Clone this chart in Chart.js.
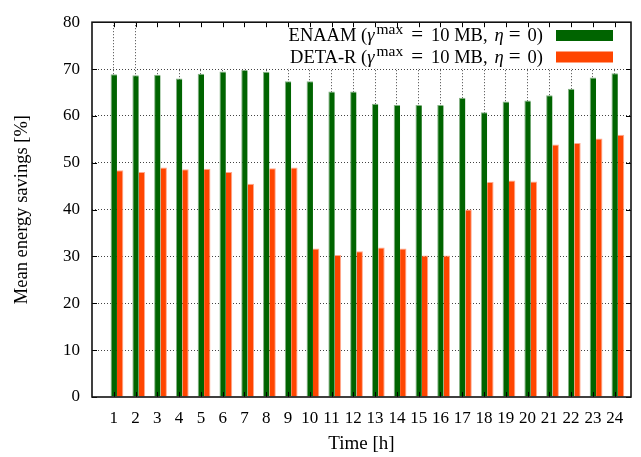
<!DOCTYPE html>
<html>
<head>
<meta charset="utf-8">
<script src="https://cdn.jsdelivr.net/npm/chart.js@4/dist/chart.umd.min.js"></script>
<style>
  html, body { margin: 0; padding: 0; background: #fff; }
  #wrap { width: 641px; height: 457px; }
</style>
</head>
<body>
<div id="wrap"><canvas id="chart" width="641" height="457"></canvas></div>
<script>
const HOURS = [1, 2, 3, 4, 5, 6, 7, 8, 9, 10, 11, 12, 13, 14, 15, 16, 17, 18, 19, 20, 21, 22, 23, 24];
const ENAAM = [68.9, 68.7, 68.8, 68.0, 69.0, 69.5, 69.8, 69.4, 67.4, 67.4, 65.2, 65.2,
  62.6, 62.3, 62.3, 62.3, 63.9, 60.8, 63.1, 63.3, 64.4, 65.8, 68.2, 69.1];
const DETA_R = [48.4, 48.0, 49.0, 48.6, 48.7, 48.0, 45.5, 48.8, 49.0, 31.7, 30.3, 31.1,
  31.9, 31.7, 30.2, 30.2, 40.0, 45.9, 46.2, 46.0, 53.9, 54.2, 55.2, 56.0];
const Y_TICKS = [0, 10, 20, 30, 40, 50, 60, 70, 80];
const SERIES_NAMES = ['ENAAM', 'DETA-R'];
const SERIES_COLORS = ['#006400', '#ff4500'];

const FONT = "'Liberation Serif', 'Times New Roman', serif";
Chart.defaults.font.family = FONT;
Chart.defaults.font.size = 17;
Chart.defaults.color = '#000';

const toPoints = (values) => HOURS.map((h, i) => ({ x: h, y: values ? values[i] : null }));

// gnuplot/latex style key: "NAME (γ^max = 10 MB, η = 0)" plus a swatch, on a white box
const drawKeyLine = (ctx, name, color, baseY, rightX) => {
  const rm = `18.5px ${FONT}`;
  const it = `italic 18.5px ${FONT}`;
  const parts = [
    // text, font, raise, gap before
    [name + ' (', rm, 0, 0],
    ['γ', it, 0, 0],
    ['max', `15.5px ${FONT}`, -7, 2],
    ['=', `21px ${FONT}`, 0, 8],
    ['10 MB,', rm, 0, 8],
    ['η', it, 0, 7],
    ['=', `21px ${FONT}`, 0, 5],
    ['0)', rm, 0, 7]
  ];
  let total = 0;
  parts.forEach(p => { ctx.font = p[1]; total += p[3] + ctx.measureText(p[0]).width; });
  let x = rightX - total;
  ctx.fillStyle = '#000';
  ctx.textBaseline = 'alphabetic';
  ctx.textAlign = 'left';
  parts.forEach(p => {
    ctx.font = p[1];
    x += p[3];
    ctx.fillText(p[0], x, baseY + p[2]);
    x += ctx.measureText(p[0]).width;
  });
  ctx.fillStyle = color;
  ctx.fillRect(556, baseY - 11, 57, 11);
};

const framePlugin = {
  id: 'frame',
  beforeDatasetsDraw(chart) {
    const { ctx, chartArea } = chart;
    ctx.save();
    ctx.fillStyle = '#fff';
    ctx.fillRect(145, chartArea.top, chartArea.right - 145, 46);
    ctx.restore();
  },
  afterDraw(chart) {
    const { ctx, chartArea, scales } = chart;
    const { left, right, top, bottom } = chartArea;
    ctx.save();
    ctx.strokeStyle = '#000';
    ctx.lineWidth = 1;
    ctx.beginPath();
    HOURS.forEach(h => {
      const px = Math.round(scales.x.getPixelForValue(h)) + 0.5;
      ctx.moveTo(px, bottom); ctx.lineTo(px, bottom - 5);
      ctx.moveTo(px, top); ctx.lineTo(px, top + 5);
    });
    Y_TICKS.forEach(v => {
      const py = Math.round(scales.y.getPixelForValue(v)) + 0.5;
      ctx.moveTo(left, py); ctx.lineTo(left + 5, py);
      ctx.moveTo(right, py); ctx.lineTo(right - 5, py);
    });
    ctx.stroke();
    ctx.lineWidth = 1.6;
    ctx.strokeStyle = '#111';
    ctx.strokeRect(left, top, right - left, bottom - top);
    drawKeyLine(ctx, SERIES_NAMES[0], SERIES_COLORS[0], 41, 543);
    drawKeyLine(ctx, SERIES_NAMES[1], SERIES_COLORS[1], 62.5, 543);
    ctx.restore();
  }
};

const gridColor = (edge) => (c) => (c.tick && edge.includes(c.tick.value) ? 'rgba(0,0,0,0)' : '#444');

new Chart(document.getElementById('chart'), {
  type: 'bar',
  data: {
    datasets: [
      // empty slot so that the green bar sits on the tick and the orange one to its right
      { label: '', data: toPoints(null), backgroundColor: 'rgba(0,0,0,0)' },
      {
        label: SERIES_NAMES[0],
        data: toPoints(ENAAM),
        backgroundColor: SERIES_COLORS[0],
        borderColor: 'rgba(120,170,120,0.9)',
        borderWidth: { left: 1, right: 0, top: 1 }
      },
      {
        label: SERIES_NAMES[1],
        data: toPoints(DETA_R),
        backgroundColor: SERIES_COLORS[1],
        borderColor: 'rgba(255,160,130,0.9)',
        borderWidth: { left: 0, right: 1, top: 1 }
      }
    ]
  },
  options: {
    responsive: false,
    animation: false,
    events: [],
    layout: { padding: { top: 20, right: 10, left: 0, bottom: 0 } },
    datasets: { bar: { categoryPercentage: 0.88, barPercentage: 1.0 } },
    plugins: { legend: { display: false }, tooltip: { enabled: false } },
    scales: {
      x: {
        type: 'linear',
        offset: false,
        min: 0,
        max: 24.75,
        afterBuildTicks: (s) => { s.ticks = HOURS.map(v => ({ value: v })); },
        afterFit: (s) => { s.height = 60; },
        grid: { color: gridColor([]), drawTicks: false, lineWidth: 1, offset: false },
        border: { display: false, dash: [1, 2] },
        ticks: { padding: 11, maxRotation: 0, autoSkip: false },
        title: { display: true, text: 'Time [h]', padding: { top: 2, bottom: 2 }, font: { size: 19 } }
      },
      y: {
        min: 0,
        max: 80,
        afterBuildTicks: (s) => { s.ticks = Y_TICKS.map(v => ({ value: v })); },
        afterFit: (s) => { s.width = 92; },
        grid: { color: gridColor([0, 80]), drawTicks: false, lineWidth: 1 },
        border: { display: false, dash: [1, 2] },
        ticks: { padding: 12 },
        title: { display: true, text: 'Mean energy savings [%]', padding: { top: 11, bottom: 0 }, font: { size: 18.5 } }
      }
    }
  },
  plugins: [framePlugin]
});
</script>
</body>
</html>
